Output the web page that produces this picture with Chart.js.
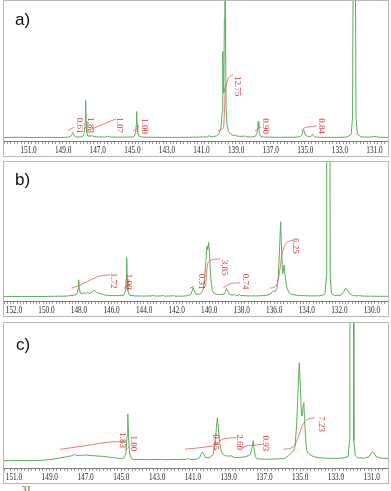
<!DOCTYPE html>
<html><head><meta charset="utf-8">
<script src="https://cdn.jsdelivr.net/npm/chart.js@4.4.1/dist/chart.umd.min.js"></script>
<style>
html,body{margin:0;padding:0;background:#fff;width:391px;height:491px;overflow:hidden;position:relative}
.box{position:absolute;left:3px;width:386px;border:1px solid #b8b8b8;box-sizing:border-box;background:#fff}
.box canvas{display:block}
#note{position:absolute;left:22px;top:484px;font:9px 'Liberation Serif',serif;color:#333}
</style></head><body>
<div class="box" style="top:0px;height:157px"><canvas id="ca" width="384" height="155"></canvas></div>
<div class="box" style="top:161px;height:156px"><canvas id="cb" width="384" height="154"></canvas></div>
<div class="box" style="top:322px;height:162px"><canvas id="cc" width="384" height="160"></canvas></div>
<div id="note">31</div>
<script>
// ---------- DATA (ppm, intensity above baseline) ----------
const ticksA = [151,149,147,145,143,141,139,137,135,133,131];
const ticksB = [152,150,148,146,144,142,140,138,136,134,132,130];
const ticksC = [151,149,147,145,143,141,139,137,135,133,131];

const specA = [[152.42,0],[151.6,0.3],[150.8,0],[150.0,0.2],[149.2,0],[148.75,0.3],[148.58,1],[148.5,3],[148.45,5],[148.40,3],[148.33,1],[148.2,0.4],[147.95,0.6],[147.84,1.5],[147.77,5],[147.73,16],[147.70,37],[147.67,16],[147.63,5],[147.56,1.5],[147.49,1.2],[147.45,2],[147.41,1.2],[147.36,1.5],[147.32,2.2],[147.27,1.2],[147.1,0.6],[146.55,0.5],[146.42,1.3],[146.34,0.5],[145.6,0.3],[145.0,0.5],[144.88,1.5],[144.81,5],[144.77,13],[144.75,26],[144.73,13],[144.69,5],[144.62,1.5],[144.45,0.4],[143.6,0.2],[142.4,0.1],[141.2,0.4],[140.65,0.6],[140.58,1.5],[140.55,2.2],[140.5,0.8],[140.3,0.9],[140.12,1.8],[139.98,4],[139.88,9],[139.81,25],[139.77,86],[139.74,50],[139.71,45],[139.68,120],[139.65,300],[139.62,120],[139.58,30],[139.52,12],[139.44,6],[139.32,3.5],[139.15,2],[139.05,2.5],[139.0,1.5],[138.8,1.2],[138.55,1.2],[138.5,1.8],[138.44,0.8],[138.1,0.5],[137.9,1],[137.8,4],[137.75,10],[137.72,16],[137.69,10],[137.65,4],[137.58,1],[137.4,0.4],[136.5,0.2],[135.6,0.3],[135.3,0.8],[135.2,2.5],[135.14,6],[135.1,8],[135.06,6],[135.0,2.5],[134.88,1.2],[134.7,1],[134.62,2],[134.58,3.2],[134.54,2],[134.45,0.6],[134.1,0.2],[133.2,0.1],[132.6,0.5],[132.35,3],[132.27,20],[132.24,150],[132.17,1000],[132.10,150],[132.07,20],[131.99,3],[131.75,0.6],[131.3,0.3],[131.1,0.8],[131.0,1],[130.9,0.8],[130.7,0.2],[130.22,0.2]];

const specB = [[152.61,0],[151.5,0.3],[150.5,0.2],[149.5,0.4],[148.8,0.6],[148.3,1.5],[148.12,3],[148.06,8],[148.02,16.7],[147.98,8],[147.92,3.5],[147.8,3],[147.7,4],[147.6,3],[147.49,4.5],[147.4,3.2],[147.28,4],[147.15,5],[147.07,6.7],[146.98,5],[146.85,3.5],[146.71,3.5],[146.5,2],[146.2,1.2],[145.6,1],[145.25,1.5],[145.14,6],[145.10,18],[145.07,39],[145.04,18],[145.0,6],[144.9,1.5],[144.6,0.8],[144.0,0.6],[143.5,0.8],[143.44,1.8],[143.38,0.6],[142.9,0.8],[142.82,1.5],[142.75,0.5],[142.25,0.9],[142.2,1.5],[142.14,0.5],[141.6,0.6],[141.3,1],[141.12,2.5],[141.04,6],[140.98,9.3],[140.92,6],[140.82,2.5],[140.6,2.5],[140.45,4],[140.36,8],[140.28,18],[140.2,35],[140.14,50.7],[140.09,47],[140.03,54.3],[139.97,40],[139.9,18],[139.82,7],[139.72,3.5],[139.55,2.5],[139.3,2],[139.05,3],[138.98,6],[138.93,8.3],[138.87,6],[138.8,3],[138.6,1.5],[138.45,2.2],[138.38,1.2],[138.2,1.5],[138.15,2.5],[138.08,1.2],[137.6,0.8],[137.0,0.8],[136.5,1.2],[136.25,2.5],[136.12,5],[136.04,6],[135.95,5],[135.85,8],[135.75,20],[135.67,50],[135.61,75],[135.55,45],[135.48,23],[135.42,28],[135.39,31.7],[135.34,22],[135.24,10],[135.1,4],[134.95,2.3],[134.5,1.2],[133.8,0.8],[133.2,0.9],[132.95,2],[132.88,3],[132.8,20],[132.78,150],[132.68,1000],[132.58,150],[132.56,20],[132.48,3],[132.3,1.2],[131.9,1.5],[131.75,4],[131.65,7.5],[131.59,8.3],[131.52,7],[131.4,3.5],[131.2,1.2],[130.9,0.8],[130.75,1.2],[130.6,0.6],[130.0,0.5],[129.5,0.4],[129.01,0.4]];

const specC = [[151.56,0],[150.5,0.2],[149.6,0.3],[149.0,1],[148.5,2.5],[148.05,4],[147.75,5],[147.62,6.3],[147.5,5.2],[147.4,5],[147.2,5.5],[146.94,5.7],[146.75,5.2],[146.57,5],[146.3,4.6],[146.0,4.3],[145.7,3.6],[145.45,3],[145.2,2.4],[144.98,2],[144.85,3],[144.74,8],[144.68,25],[144.64,46.7],[144.6,25],[144.54,8],[144.45,2.5],[144.33,1.3],[143.9,1.2],[143.4,1],[142.9,1.2],[142.46,1],[141.7,1.3],[141.35,1.5],[141.25,2.3],[141.15,1.3],[140.8,1.5],[140.62,3],[140.53,7],[140.47,8.7],[140.41,7],[140.3,3],[140.1,3],[139.96,4.5],[139.86,7],[139.76,16],[139.69,32],[139.63,43],[139.57,32],[139.5,18],[139.42,10],[139.3,6],[139.18,5],[139.0,4.5],[138.87,5],[138.75,3.8],[138.64,3],[138.45,3.4],[138.36,3.3],[138.2,3.6],[138.08,4],[137.9,5],[137.8,6],[137.7,12],[137.65,18],[137.62,20],[137.58,12],[137.5,4],[137.43,2],[137.2,1.6],[136.87,1.5],[136.4,1.7],[135.94,2],[135.8,3],[135.66,5],[135.52,7],[135.47,8],[135.38,10],[135.29,14],[135.2,35],[135.12,70],[135.05,98],[134.98,70],[134.93,45],[134.88,45],[134.84,55],[134.8,58],[134.75,40],[134.68,18],[134.63,10],[134.5,6.5],[134.36,5],[134.2,3.8],[133.99,3],[133.6,2.5],[133.15,2.3],[132.7,2.5],[132.32,4],[132.24,20],[132.22,150],[132.12,1000],[132.02,150],[132.0,20],[131.92,5],[131.8,3],[131.4,2.5],[131.15,4],[131.02,7.5],[130.95,9],[130.88,7.5],[130.75,4],[130.5,2.5],[130.09,2.3]];

// integral curves (ppm, height)
const intA = [
  [[148.72,7],[148.6,8],[148.45,9.5],[148.35,10.5]],
  [[147.8,8.5],[147.7,10],[147.6,11]],
  [[147.55,7.5],[147.2,9.5],[146.6,14],[145.95,18.5]],
  [[144.95,6.5],[144.8,8],[144.72,10],[144.6,11]],
  [[140.08,6.5],[139.81,8.5],[139.73,10.5],[139.67,27.5],[139.64,42.5],[139.58,51.5],[139.47,58.5],[139.32,61.5],[139.18,63]],
  [[137.9,6.8],[137.75,8],[137.68,9.5],[137.55,10.2]],
  [[135.22,6.8],[135.05,9.5],[134.8,10.5],[134.35,11.5]]
];
const intB = [
  [[148.45,8.4],[147.94,11.7],[146.71,20.7],[146.1,21.7]],
  [[145.24,8.4],[145.1,10],[145.0,14],[144.95,15]],
  [[141.18,8.4],[141.05,9.5],[140.95,10.7]],
  [[140.37,8.4],[140.22,11.7],[140.16,23.4],[140.10,31.7],[139.96,35.7],[139.65,37.4],[139.34,37.7]],
  [[139.13,9],[138.73,12.7],[138.11,14]],
  [[136.27,8.4],[135.86,11.7],[135.65,26.7],[135.55,40],[135.34,51.7],[135.04,55.7],[134.73,56.7]]
];
const intC = [
  [[148.43,11.4],[147.12,14.7],[146.19,17.4],[145.26,19],[144.79,19]],
  [[144.79,10.7],[144.65,12.5],[144.51,14.7]],
  [[141.44,11.4],[140.6,13],[139.86,14.7]],
  [[139.76,14.7],[139.48,20],[139.11,22.4],[138.55,23]],
  [[138.27,12.4],[137.99,14.7],[137.43,15.7],[137.06,16.7]],
  [[135.94,11.4],[135.38,14],[135.1,24],[134.91,34],[134.63,40.7],[134.17,43]]
];
// integral values (ppm, height, text)
const labA = [[148.05,11.8,'0.61'],[147.42,12.5,'1.83'],[145.77,12.5,'1.07'],[144.32,11.5,'1.00'],[138.93,51.5,'12.75'],[137.29,11.5,'0.90'],[134.09,11.5,'0.84']];
const labB = [[145.9,16,'1.72'],[144.97,15,'1.00'],[140.46,15,'0.31'],[139.09,29.2,'3.85'],[137.8,15,'0.74'],[134.73,50.9,'6.25']];
const labC = [[144.94,20.7,'1.83'],[144.33,17.4,'1.00'],[139.76,18.7,'0.45'],[138.4,18.7,'2.60'],[136.93,17.4,'0.93'],[133.8,36.7,'7.23']];

// ---------- DRAWING ----------
const extras = {
  id: 'extras',
  afterDatasetsDraw(chart, args, o) {
    const ctx = chart.ctx, xs = chart.scales.x, ys = chart.scales.y;
    ctx.save();
    ctx.fillStyle = '#d3383f';
    ctx.font = '9px "Liberation Serif", serif';
    ctx.textAlign = 'center'; ctx.textBaseline = 'middle';
    o.labels.forEach(l => {
      ctx.save();
      ctx.translate(xs.getPixelForValue(l[0]), ys.getPixelForValue(l[1]));
      ctx.rotate(Math.PI / 2);
      ctx.fillText(l[2], 0, 0);
      ctx.restore();
    });
    ctx.restore();
  },
  afterDraw(chart, args, o) {
    const ctx = chart.ctx, xs = chart.scales.x;
    ctx.save();
    ctx.fillStyle = '#2a2a2a';
    ctx.font = '11px "Liberation Serif", serif';
    ctx.textAlign = 'center'; ctx.textBaseline = 'alphabetic';
    const yb = chart.chartArea.bottom + 11.5;
    o.ticks.forEach(v => {
      ctx.save();
      ctx.translate(xs.getPixelForValue(v), yb);
      ctx.scale(0.66, 1);
      ctx.fillText(v.toFixed(1), 0, 0);
      ctx.restore();
    });
    ctx.font = '17px "Liberation Sans", Arial, sans-serif';
    ctx.fillStyle = '#111';
    ctx.textAlign = 'left';
    ctx.fillText(o.panel, o.px, o.py);
    ctx.restore();
  }
};

function ds(pairs, color, mono) {
  return { data: pairs.map(p => ({x: p[0], y: p[1]})), borderColor: color, borderWidth: 1,
    pointRadius: 0, fill: false, tension: 0, cubicInterpolationMode: mono ? 'monotone' : 'default' };
}

function make(id, spec, ints, labs, ticks, xmin, xmax, ymin, ymax, panel, px, py) {
  const sets = ints.map(c => ds(c, 'rgba(228,100,100,0.85)', true));
  sets.push(ds(spec, '#5aae5a', false));
  new Chart(document.getElementById(id), {
    type: 'line',
    data: { datasets: sets },
    plugins: [extras],
    options: {
      responsive: false, animation: false, events: [],
      layout: { padding: 0 },
      plugins: { legend: {display: false}, tooltip: {enabled: false},
        extras: { labels: labs, ticks: ticks, panel: panel, px: px, py: py } },
      scales: {
        x: { type: 'linear', reverse: true, min: xmin, max: xmax,
          afterFit: s => { s.height = 15; s.paddingLeft = 0; s.paddingRight = 0; },
          border: { display: true, color: '#7a7a7a', width: 1 },
          grid: { display: true, drawOnChartArea: false, drawTicks: true, tickLength: 3, color: '#999' },
          ticks: { stepSize: 0.2, autoSkip: false, maxRotation: 0, callback: () => '' } },
        y: { display: false, min: ymin, max: ymax }
      }
    }
  });
}

make('ca', specA, intA, labA, ticksA, 130.22, 152.42, -3.5, 136.5, 'a)', 11, 23.5);
make('cb', specB, intB, labB, ticksB, 129.01, 152.61, -4.3, 134.7, 'b)', 11, 23);
make('cc', specC, intC, labC, ticksC, 130.09, 151.56, -7.3, 137.7, 'c)', 12, 26.5);
</script>
</body></html>
